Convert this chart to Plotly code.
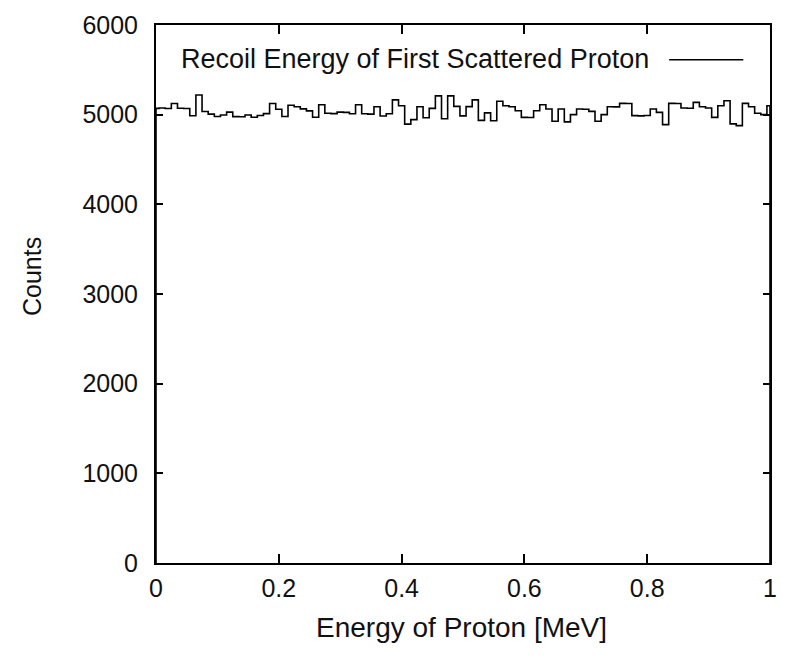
import plotly.graph_objects as go

# Histogram data (gnuplot "histeps" style): bin centres 0.00 ... 1.00 MeV
energy_mev = [round(i * 0.01, 2) for i in range(101)]
counts = [
    5070, 5075, 5068, 5125, 5072, 5068, 4988, 5220, 5035, 5006,
    4980, 4996, 5028, 4978, 4976, 4996, 4972, 4990, 5012, 5125,
    5060, 4980, 5105, 5089, 5065, 5042, 4972, 5110, 5015, 5012,
    5028, 5026, 5010, 5110, 5010, 5006, 5089, 4985, 5010, 5165,
    5100, 4895, 4945, 5089, 4965, 5070, 5210, 4955, 5210, 5092,
    4986, 5090, 5165, 4936, 5020, 4932, 5150, 5100, 5089, 5044,
    4970, 4968, 5044, 5111, 5063, 4926, 5063, 4920, 5000, 5063,
    5060, 5037, 4926, 5000, 5089, 5087, 5126, 5124, 4989, 4987,
    4990, 5063, 5026, 4889, 5126, 5124, 5074, 5072, 5137, 5089,
    5074, 4970, 5100, 5155, 4897, 4878, 5126, 5089, 5015, 5000,
    5100,
]
series_name = "Recoil Energy of First Scattered Proton"
x_title = "Energy of Proton [MeV]"
y_title = "Counts"
x_ticks = [0, 0.2, 0.4, 0.6, 0.8, 1]
x_ticklabels = ["0", "0.2", "0.4", "0.6", "0.8", "1"]
y_ticks = [0, 1000, 2000, 3000, 4000, 5000, 6000]
y_ticklabels = ["0", "1000", "2000", "3000", "4000", "5000", "6000"]

FONT = "Liberation Sans, Arial, Helvetica, sans-serif"
TXT = "#111"
LINE = dict(color="black", width=1.6)

W, H = 788, 661
L, R, T, B = 156, 11, 22, 98
pw, ph = W - L - R, H - T - B


def px(x):
    return (x - L) / pw


def py(y):
    return (H - B - y) / ph


fig = go.Figure()
fig.add_trace(go.Scatter(x=energy_mev, y=counts, mode="lines",
                         line=dict(shape="hvh", **LINE), name=series_name,
                         showlegend=False))
# histeps outline drops to the baseline at both ends
fig.add_trace(go.Scatter(x=[energy_mev[0], energy_mev[0]], y=[0, counts[0]],
                         mode="lines", line=LINE, showlegend=False))
fig.add_trace(go.Scatter(x=[energy_mev[-1], energy_mev[-1]], y=[counts[-1], 0],
                         mode="lines", line=LINE, showlegend=False))

axis_common = dict(showline=True, linecolor="black", linewidth=2, mirror="ticks",
                   ticks="inside", tickcolor="black", tickwidth=1.5,
                   showgrid=False, zeroline=False,
                   tickfont=dict(family=FONT, size=25, color=TXT))

fig.update_xaxes(range=[0, 1], tickvals=x_ticks, ticktext=x_ticklabels,
                 ticklen=9, ticklabelstandoff=2, **axis_common)
fig.update_yaxes(range=[0, 6000], tickvals=y_ticks, ticktext=y_ticklabels,
                 ticklen=7, ticklabelstandoff=11, **axis_common)

# legend in gnuplot style: text then sample line on the right
fig.add_annotation(x=px(657), y=py(56), xref="paper", yref="paper", text=series_name,
                   showarrow=False, xanchor="right", yanchor="middle",
                   font=dict(family=FONT, size=27, color=TXT))
fig.add_shape(type="line", xref="paper", yref="paper",
              x0=px(675), x1=px(750), y0=py(57), y1=py(57),
              line=dict(color="black", width=1.6))

# axis titles
fig.add_annotation(text=x_title, xref="paper", yref="paper", x=px(465), y=py(628),
                   showarrow=False, xanchor="center", yanchor="middle",
                   font=dict(family=FONT, size=28, color=TXT))
fig.add_annotation(text=y_title, xref="paper", yref="paper", x=px(30), y=py(275),
                   showarrow=False, textangle=-90, xanchor="center", yanchor="middle",
                   font=dict(family=FONT, size=25, color=TXT))

fig.update_layout(width=W, height=H, margin=dict(l=L, r=R, t=T, b=B),
                  plot_bgcolor="white", paper_bgcolor="white")

fig.write_html("out.html")
